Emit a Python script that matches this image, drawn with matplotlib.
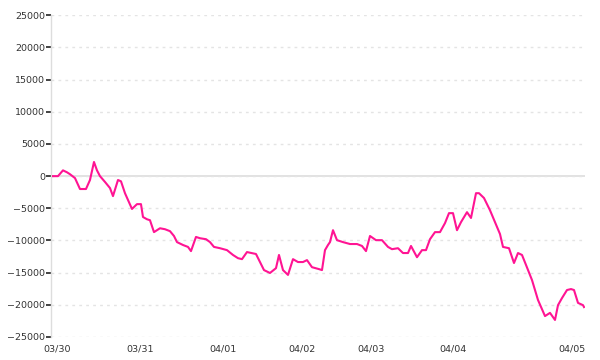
import matplotlib
matplotlib.use("Agg")
import matplotlib.pyplot as plt

# sample position within the period and the running value
t = [0, 5, 10, 14, 17, 22, 27, 33, 37, 41, 44, 47, 52, 57, 60, 65, 68, 72, 79, 84,
     88, 90, 94, 97, 101, 107, 112, 117, 121, 124, 130, 135, 138, 143, 147, 153, 157, 161, 167, 174,
     180, 185, 189, 194, 203, 211, 217, 223, 226, 230, 235, 240, 245, 250, 254, 259, 266, 269, 272, 275,
     277, 280, 284, 290, 297, 304, 309, 313, 317, 323, 329, 335, 339, 345, 350, 355, 358, 364, 369, 373,
     377, 382, 387, 392, 396, 400, 404, 408, 414, 418, 423, 426, 431, 437, 442, 447, 450, 456, 461, 465,
     469, 473, 479, 485, 492, 497, 502, 505, 509, 514, 518, 521, 525, 530, 531]
values = [0, 0, 900, 600, 300, -300, -2000, -2000, -600, 2200, 900, 0, -900, -1850, -3100, -600, -800, -2650, -5100, -4350,
          -4350, -6350, -6700, -6850, -8700, -8100, -8250, -8550, -9300, -10250, -10700, -11000, -11650, -9450, -9650, -9800, -10250, -11000, -11200, -11500,
          -12250, -12750, -12900, -11800, -12100, -14600, -15050, -14300, -12250, -14600, -15350, -12900, -13350, -13350, -13050, -14150, -14450, -14600, -11500, -10700,
          -10250, -8400, -9950, -10250, -10550, -10550, -10850, -11650, -9300, -9950, -9950, -11000, -11350, -11200, -11950, -11950, -10850, -12600, -11500, -11500,
          -9800, -8700, -8700, -7300, -5750, -5750, -8400, -7150, -5600, -6500, -2650, -2650, -3400, -5300, -7150, -9000, -11000, -11200, -13500, -11950,
          -12250, -13800, -16150, -19250, -21750, -21250, -22350, -20050, -18950, -17700, -17550, -17700, -19700, -20050, -20350]

day_pos = [4.5, 87, 170, 249, 318, 400, 519.5]
day_labels = ["03/30", "03/31", "04/01", "04/02", "04/03", "04/04", "04/05"]
y_ticks = list(range(-25000, 25001, 5000))

fig = plt.figure(figsize=(6, 3.6), dpi=100)
ax = fig.add_axes([0.0858, 0.0639, 0.975 - 0.0858, 0.9575 - 0.0639])

ax.grid(axis="y", color="#e4e4e4", linestyle=(0, (2, 3)), linewidth=1)
ax.axhline(0, color="#dddddd", linewidth=1.2, zorder=1)
ax.plot(t, values, color="#ff1493", linewidth=1.5, zorder=3)

ax.set_xlim(-1.5, 532)
ax.set_ylim(-25000, 25000)
ax.set_yticks(y_ticks)
ax.set_xticks(day_pos)
ax.set_xticklabels(day_labels)

for s in ["top", "right", "bottom"]:
    ax.spines[s].set_visible(False)
ax.spines["left"].set_color("#dddddd")
ax.spines["left"].set_linewidth(1.0)

ax.tick_params(axis="y", length=3.8, width=1.2, color="#222222", pad=0.8,
               labelsize=6.8, labelcolor="#333333")
ax.tick_params(axis="x", length=0, pad=5.5, labelsize=6.8, labelcolor="#333333")

fig.savefig("out.png", dpi=100)
